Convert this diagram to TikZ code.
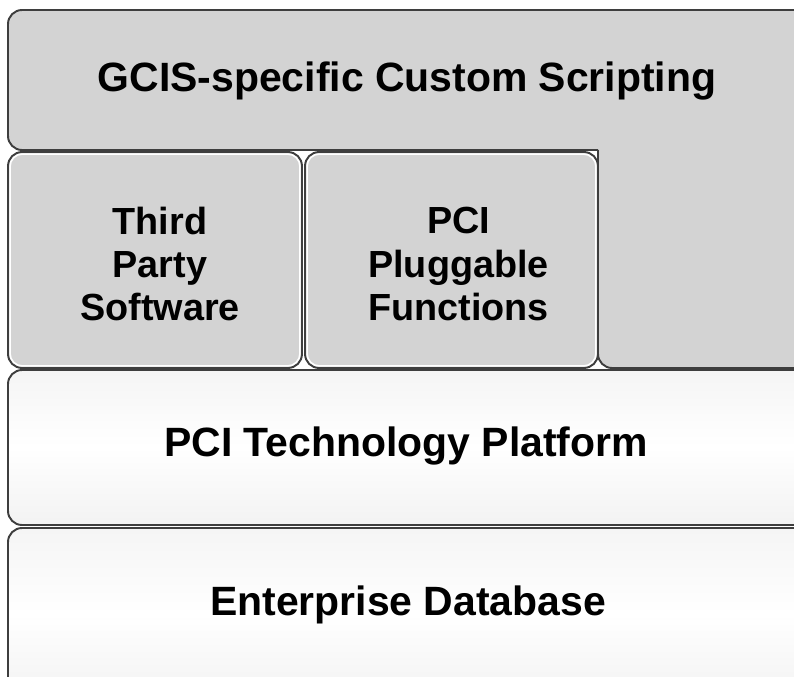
\documentclass[tikz,border=0pt]{standalone}
\usepackage{fontspec}
\setmainfont{Liberation Sans}
\usetikzlibrary{calc,positioning}
\definecolor{layergrey}{RGB}{211,211,211}
\definecolor{edgegrey}{RGB}{62,62,62}
\tikzset{
	greylayer/.style={fill=layergrey, draw=edgegrey, line width=1.1pt, rounded corners=8pt},
	whitelayer/.style={draw=edgegrey, line width=1.1pt, rounded corners=8pt, top color=black!4, bottom color=black!5, middle color=white},
	subbox/.style={greylayer, rectangle, inner sep=0pt, minimum height=4.32cm},
	bevel/.style={draw=white, line width=0.9pt, rounded corners=7pt},
	boxlabel/.style={align=center, font=\fontsize{21.5}{24.7}\selectfont\bfseries},
	biglabel/.style={font=\fontsize{23.3}{28}\selectfont\bfseries}
}
\begin{document}
\begin{tikzpicture}[x=0.02cm, y=-0.02cm]
	\useasboundingbox (0,0) rectangle (794,676);
	\clip (0,0) rectangle (794,676);

	% layers, bottom up
	\draw[whitelayer] (8,528) rectangle (840,700);
	\draw[whitelayer] (8,370) rectangle (840,525);
	\draw[greylayer] (598,150) -- (8,150) -- (8,10) -- (840,10) -- (840,368) -- (598,368) -- (598,150);

	\node[subbox, minimum width=5.88cm] (thirdparty) at (155,260) {};
	\node[subbox, minimum width=5.86cm] (pluggable) at (451.5,260) {};
	\draw[bevel] ($(thirdparty.north west)+(3,3)$) rectangle ($(thirdparty.south east)+(-3,-3)$);
	\draw[bevel] ($(pluggable.north west)+(3,3)$) rectangle ($(pluggable.south east)+(-3,-3)$);

	\node[boxlabel] (thirdlabel) at ($(thirdparty)+(5,4)$) {Third\\Party\\Software};
	\node[boxlabel] (plugglabel) at ($(pluggable)+(7,4)$) {PCI\\Pluggable\\Functions};

	\node[biglabel] (scripting) at (407,81) {GCIS-specific Custom Scripting};
	\node[biglabel] (platform) at (406,446) {PCI Technology Platform};
	\node[biglabel] (database) at (408,605) {Enterprise Database};
\end{tikzpicture}
\end{document}
